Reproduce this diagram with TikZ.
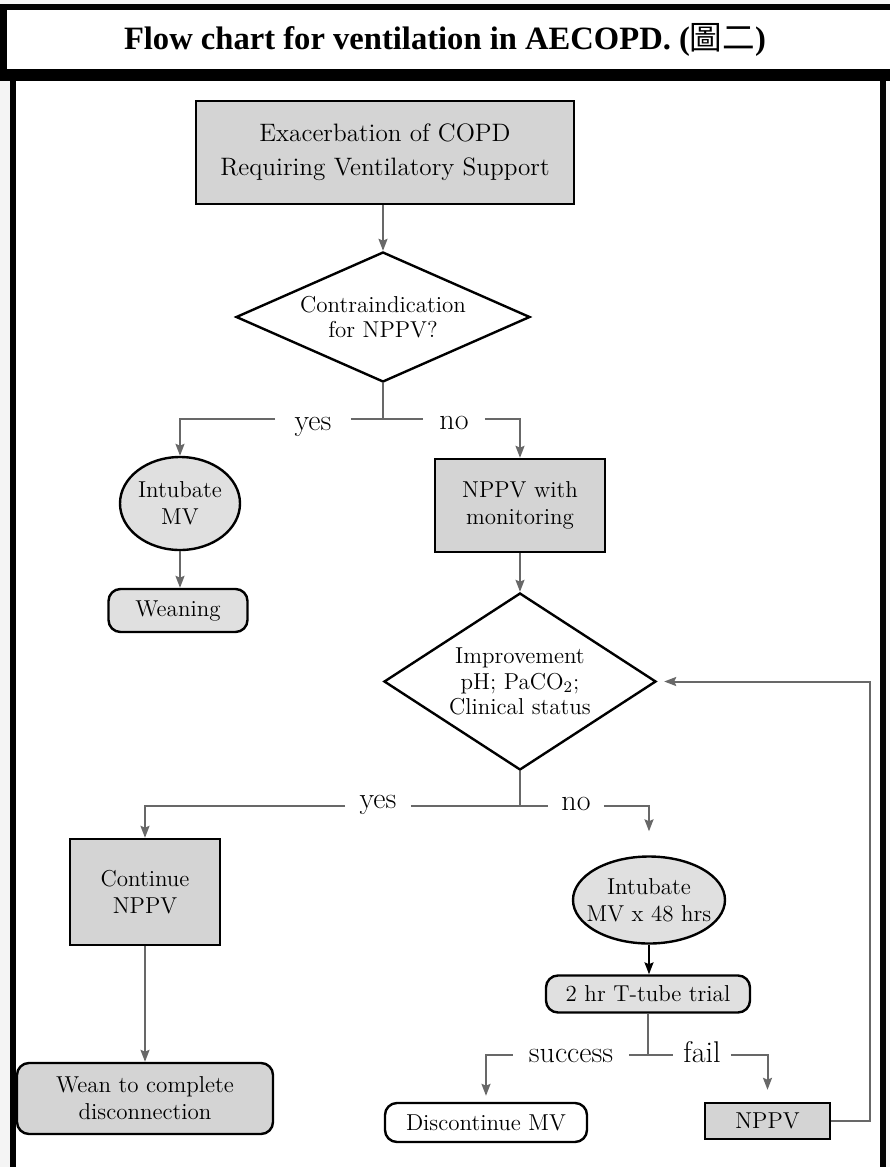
\documentclass[tikz,border=0pt]{standalone}
\usepackage{fontspec}
\newfontfamily\titlefont{Liberation Serif}
\newfontfamily\cjkfont{Noto Sans CJK TC}
\usetikzlibrary{shapes.geometric,arrows.meta}

\definecolor{boxgray}{HTML}{D4D4D4}
\definecolor{ovalgray}{HTML}{E0E0E0}
\definecolor{linegray}{HTML}{686868}
\definecolor{pagegray}{HTML}{F4F4F4}

\tikzset{
  base/.style={draw=black, line width=1.2pt, font=\fontsize{11.5}{13.5}\selectfont, align=center},
  box/.style={base, rectangle, fill=boxgray},
  rbox/.style={base, rectangle, rounded corners=6pt, fill=ovalgray},
  oval/.style={base, ellipse, fill=ovalgray, inner sep=0pt},
  decision/.style={base, diamond, inner sep=0pt, font=\fontsize{11.5}{12.7}\selectfont},
  lbl/.style={font=\fontsize{15}{16}\selectfont, anchor=base, inner ysep=0pt, inner xsep=8pt},
  line/.style={draw=linegray, line width=1pt},
  arr/.style={line, -{Stealth[length=6pt,width=4.5pt,inset=1pt]}},
}

\begin{document}
\begin{tikzpicture}[x=0.5pt, y=-0.5pt]
  % page and frames
  \fill[pagegray] (0,0) rectangle (890,1167);
  \useasboundingbox (0,0) rectangle (890,1167);
  \fill[white] (10,75) rectangle (886,1167);
  \fill[black] (10,75) rectangle (16,1167);
  \fill[black] (880,75) rectangle (886,1167);
  \fill[black] (0,4) rectangle (890,81);
  \fill[white] (7,10) rectangle (890,69);
  \node[font=\titlefont\bfseries\fontsize{16.3}{20}\selectfont] (title) at (445,40)
    {Flow chart for ventilation in AECOPD. ({\cjkfont\mdseries 圖二})};

  % nodes
  \node[box, font=\fontsize{12.6}{17}\selectfont, minimum width=189pt, minimum height=51.5pt] (copd) at (385,152.5)
    {Exacerbation of COPD\\Requiring Ventilatory Support};
  \node[decision, aspect=2.26, minimum width=147pt, minimum height=65pt] (contra) at (383,317)
    {Contraindication\\for NPPV?};
  \node[oval, minimum width=60pt, minimum height=46.5pt] (intmv) at (180,503.5)
    {Intubate\\MV};
  \node[rbox, minimum width=69.5pt, minimum height=21.5pt] (weaning) at (178,610.5)
    {Weaning};
  \node[box, minimum width=85pt, minimum height=46.5pt] (nppvmon) at (520,505.5)
    {NPPV with\\monitoring};
  \node[decision, aspect=1.54, minimum width=136pt, minimum height=88.5pt] (improve) at (520,681.5)
    {Improvement\\pH; PaCO$_2$;\\Clinical status};
  \node[box, minimum width=75pt, minimum height=53pt] (contnppv) at (145,892)
    {Continue\\NPPV};
  \node[rbox, fill=boxgray, minimum width=128pt, minimum height=35.5pt] (weanall) at (145,1098.5)
    {Wean to complete\\disconnection};
  \node[oval, inner xsep=-6pt, minimum width=76pt, minimum height=43.5pt] (intmv48) at (649,900)
    {Intubate\\MV x 48 hrs};
  \node[rbox, minimum width=102pt, minimum height=18.5pt] (ttube) at (648,994)
    {2 hr T-tube trial};
  \node[rbox, fill=white, minimum width=101pt, minimum height=19.5pt] (discmv) at (486,1122.5)
    {Discontinue MV};
  \node[box, minimum width=62.5pt, minimum height=18pt] (nppv) at (767.5,1121)
    {NPPV};

  % branch labels
  \node[lbl, inner xsep=9.5pt] (yes1) at (313,430) {yes};
  \node[lbl] (no1) at (454,429) {no};
  \node[lbl, inner xsep=7pt] (yes2) at (378,808) {yes};
  \node[lbl, inner xsep=6.5pt] (no2) at (576,810) {no};
  \node[lbl] (succ) at (571,1062) {success};
  \node[lbl, inner xsep=5pt] (fail) at (702,1062) {fail};

  \coordinate (j1) at (383,419);
  \coordinate (j2) at (520,806);
  \coordinate (j3) at (648,1055);
  \coordinate (back) at (870,1121);

  % connectors
  \draw[arr] (copd.south -| contra.north) -- (contra.north);
  \draw[line] (contra.south) -- (j1);
  \draw[line] (yes1.east |- j1) -- (j1) -- (no1.west |- j1);
  \draw[arr] (yes1.west |- j1) -| (intmv.north);
  \draw[arr] (no1.east |- j1) -| (nppvmon.north);
  \draw[arr] (intmv.south) -- (weaning.north -| intmv.south);
  \draw[arr] (nppvmon.south) -- (improve.north);

  \draw[line] (improve.south) -- (j2);
  \draw[line] (yes2.east |- j2) -- (j2) -- (no2.west |- j2);
  \draw[arr] (yes2.west |- j2) -| (contnppv.north);
  \draw[arr, shorten >=12pt] (no2.east |- j2) -| (intmv48.north);
  \draw[arr] (contnppv.south) -- (weanall.north);
  \draw[-{Stealth[length=6pt,width=4.5pt,inset=1pt]}, line width=1pt] (intmv48.south) -- (ttube.north -| intmv48.south);

  \draw[line] (ttube.south) -- (j3);
  \draw[line] (succ.east |- j3) -- (j3) -- (fail.west |- j3);
  \draw[arr, shorten >=3pt] (succ.west |- j3) -| (discmv.north);
  \draw[arr, shorten >=6pt] (fail.east |- j3) -| (nppv.north);
  \draw[arr, shorten >=3.5pt] (nppv.east) -- (back) |- (improve.east);
\end{tikzpicture}
\end{document}
